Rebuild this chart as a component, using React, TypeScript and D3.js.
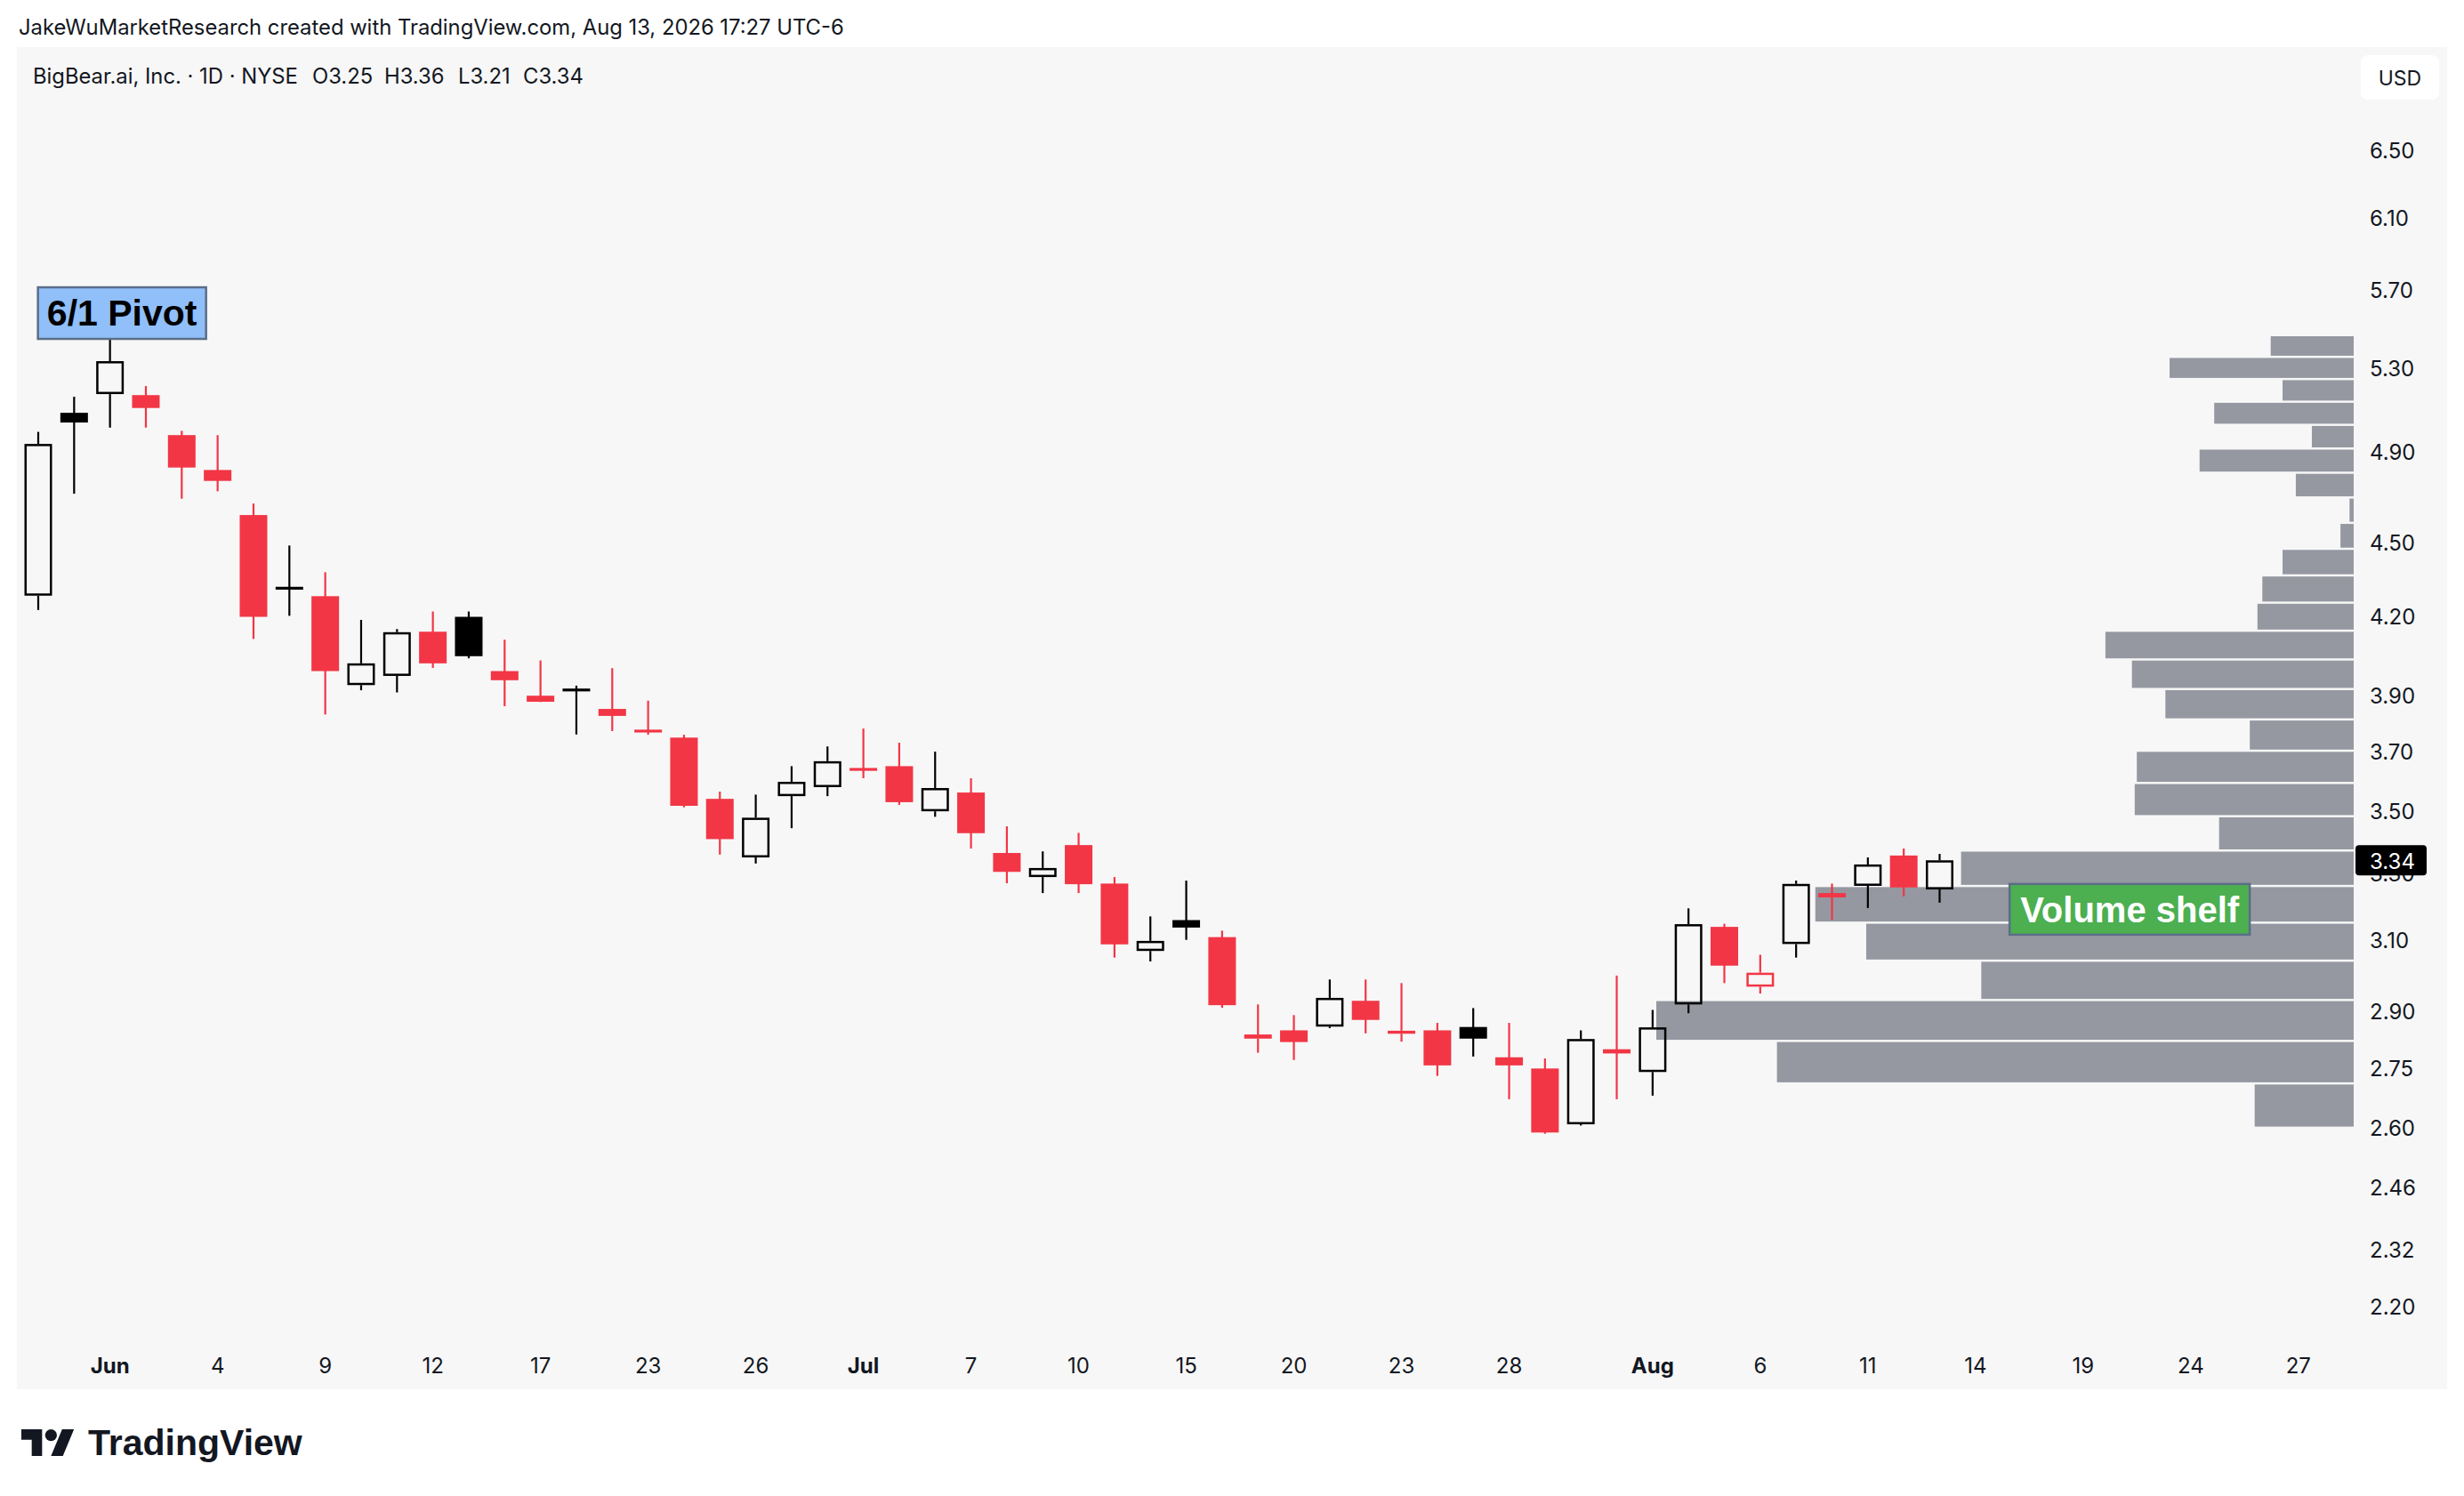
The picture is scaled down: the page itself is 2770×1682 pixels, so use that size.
import React from "react";
import * as d3 from "d3";

// ---------- DATA ----------
const dates = [
  "2026-05-28", "2026-05-29", "2026-06-01", "2026-06-02", "2026-06-03", "2026-06-04", "2026-06-05",
  "2026-06-08", "2026-06-09", "2026-06-10", "2026-06-11", "2026-06-12",
  "2026-06-15", "2026-06-16", "2026-06-17", "2026-06-18",
  "2026-06-22", "2026-06-23", "2026-06-24", "2026-06-25", "2026-06-26",
  "2026-06-29", "2026-06-30", "2026-07-01", "2026-07-02",
  "2026-07-06", "2026-07-07", "2026-07-08", "2026-07-09", "2026-07-10",
  "2026-07-13", "2026-07-14", "2026-07-15", "2026-07-16", "2026-07-17",
  "2026-07-20", "2026-07-21", "2026-07-22", "2026-07-23", "2026-07-24",
  "2026-07-27", "2026-07-28", "2026-07-29", "2026-07-30", "2026-07-31",
  "2026-08-03", "2026-08-04", "2026-08-05", "2026-08-06", "2026-08-07",
  "2026-08-10", "2026-08-11", "2026-08-12", "2026-08-13",
];
const opens = [
  4.28, 5.08, 5.17, 5.165, 4.975, 4.815, 4.616,
  4.31, 4.278, 3.936, 3.97, 4.138,
  4.196, 3.988, 3.897, 3.918,
  3.849, 3.77, 3.747, 3.538, 3.349,
  3.547, 3.577, 3.637, 3.648,
  3.497, 3.559, 3.363, 3.288, 3.388,
  3.268, 3.068, 3.158, 3.108, 2.826,
  2.848, 2.858, 2.928, 2.839, 2.848,
  2.857, 2.777, 2.748, 2.608, 2.798,
  2.739, 2.918, 3.138, 2.967, 3.088,
  3.239, 3.261, 3.355, 3.25,
];
const highs = [
  4.99, 5.157, 5.458, 5.209, 4.995, 4.975, 4.666,
  4.486, 4.375, 4.184, 4.148, 4.217,
  4.217, 4.107, 4.028, 3.934,
  3.999, 3.879, 3.757, 3.562, 3.552,
  3.648, 3.716, 3.779, 3.729,
  3.698, 3.607, 3.448, 3.368, 3.427,
  3.288, 3.169, 3.277, 3.127, 2.918,
  2.889, 2.987, 2.987, 2.977, 2.868,
  2.908, 2.868, 2.774, 2.848, 2.998,
  2.903, 3.193, 3.147, 3.057, 3.277,
  3.268, 3.349, 3.377, 3.36,
];
const lows = [
  4.223, 4.709, 5.01, 5.01, 4.687, 4.72, 4.11,
  4.2, 3.829, 3.917, 3.909, 4.0,
  4.036, 3.859, 3.874, 3.758,
  3.77, 3.757, 3.51, 3.358, 3.33,
  3.442, 3.547, 3.607, 3.518,
  3.479, 3.377, 3.269, 3.239, 3.239,
  3.049, 3.038, 3.1, 2.909, 2.789,
  2.77, 2.854, 2.84, 2.818, 2.729,
  2.779, 2.67, 2.585, 2.605, 2.67,
  2.679, 2.894, 2.977, 2.948, 3.049,
  3.159, 3.194, 3.229, 3.21,
];
const closes = [
  4.934, 5.034, 5.332, 5.103, 4.826, 4.766, 4.196,
  4.31, 3.988, 4.017, 4.136, 4.017,
  4.044, 3.954, 3.875, 3.918,
  3.824, 3.77, 3.515, 3.407, 3.476,
  3.595, 3.665, 3.637, 3.527,
  3.574, 3.426, 3.304, 3.316, 3.266,
  3.087, 3.097, 3.136, 2.916, 2.837,
  2.817, 2.936, 2.876, 2.847, 2.756,
  2.826, 2.756, 2.588, 2.825, 2.787,
  2.856, 3.146, 3.026, 3.006, 3.267,
  3.226, 3.327, 3.256, 3.34,
];
const futureDates = [
  "2026-08-14", "2026-08-17", "2026-08-18", "2026-08-19", "2026-08-20",
  "2026-08-21", "2026-08-24", "2026-08-25", "2026-08-26", "2026-08-27",
];
const xTickDates = [
  "2026-06-01", "2026-06-04", "2026-06-09", "2026-06-12", "2026-06-17", "2026-06-23", "2026-06-26",
  "2026-07-01", "2026-07-07", "2026-07-10", "2026-07-15", "2026-07-20", "2026-07-23", "2026-07-28",
  "2026-08-03", "2026-08-06", "2026-08-11", "2026-08-14", "2026-08-19", "2026-08-24", "2026-08-27",
];
const xTickLabels = [
  "Jun", "4", "9", "12", "17", "23", "26",
  "Jul", "7", "10", "15", "20", "23", "28",
  "Aug", "6", "11", "14", "19", "24", "27",
];
const priceTicks = [6.5, 6.1, 5.7, 5.3, 4.9, 4.5, 4.2, 3.9, 3.7, 3.5, 3.3, 3.1, 2.9, 2.75, 2.6, 2.46, 2.32, 2.2];

// Volume profile: 26 equal price bins, listed from top (highest price) to bottom
const profileHigh = 5.458;
const profileLow = 2.597;
const profileVolumes = [
  11.9, 26.4, 10.2, 20.0, 6.0, 22.1, 8.3, 0.6, 1.9, 10.2, 13.1, 13.8, 35.6,
  31.8, 27.0, 14.9, 31.1, 31.4, 19.3, 56.3, 77.2, 69.9, 53.4, 100, 82.7, 14.2,
];

const pivotDate = "2026-06-01";
const pivotText = "6/1 Pivot";
const shelfDate = "2026-08-20";
const shelfPrice = 3.19;
const shelfText = "Volume shelf";

const headerText = "JakeWuMarketResearch created with TradingView.com, Aug 13, 2026 17:27 UTC-6";
const symbolText = "BigBear.ai, Inc. · 1D · NYSE";

// ---------- STYLE ----------
const W = 2770;
const H = 1682;
const RED = "#f23645";
const BLACK = "#000000";
const TEXT = "#131722";
const FONT = 'Inter, "Noto Sans", "DejaVu Sans", sans-serif';
const LABEL_FONT = '"Liberation Sans", Arial, sans-serif';

export default function App() {
  const allDates = dates.concat(futureDates);
  const x = d3
    .scalePoint<string>()
    .domain(allDates)
    .range([43, 43 + (allDates.length - 1) * 40.33]);
  const y = d3.scaleLog().domain([2.2, 6.5]).range([1468.2, 168.4]);

  const bodyW = 31;
  const sw = 2.5;
  const wickW = 2.2;

  const candles = dates.map((d, i) => {
    const o = opens[i], h = highs[i], l = lows[i], c = closes[i];
    const prev = i > 0 ? closes[i - 1] : o;
    const color = c >= prev ? BLACK : RED;
    const hollow = c >= o;
    const cx = x(d) as number;
    const yTop = y(Math.max(o, c));
    const yBot = y(Math.min(o, c));
    const hgt = yBot - yTop;
    const yH = y(h);
    const yL = y(l);
    const els: React.ReactNode[] = [];
    if (hgt < 3.2) {
      const mid = (yTop + yBot) / 2;
      els.push(<line key="w" x1={cx} x2={cx} y1={yH} y2={yL} stroke={color} strokeWidth={wickW} />);
      els.push(<rect key="b" x={cx - bodyW / 2} y={mid - 1.6} width={bodyW} height={3.2} fill={color} />);
    } else if (hollow) {
      els.push(<line key="w1" x1={cx} x2={cx} y1={yH} y2={yTop} stroke={color} strokeWidth={wickW} />);
      els.push(<line key="w2" x1={cx} x2={cx} y1={yBot} y2={yL} stroke={color} strokeWidth={wickW} />);
      els.push(
        <rect key="b" x={cx - bodyW / 2 + sw / 2} y={yTop + sw / 2} width={bodyW - sw} height={hgt - sw}
          fill="none" stroke={color} strokeWidth={sw} />
      );
    } else {
      els.push(<line key="w" x1={cx} x2={cx} y1={yH} y2={yL} stroke={color} strokeWidth={wickW} />);
      els.push(<rect key="b" x={cx - bodyW / 2} y={yTop} width={bodyW} height={hgt} fill={color} />);
    }
    return <g key={d}>{els}</g>;
  });

  // volume profile
  const nBins = profileVolumes.length;
  const binW = (profileHigh - profileLow) / nBins;
  const profRight = 2646;
  const profMaxW = 784;
  const wScale = d3.scaleLinear().domain([0, d3.max(profileVolumes) as number]).range([0, profMaxW]);
  const profileBars = profileVolumes.map((v, k) => {
    const top = profileHigh - k * binW;
    const bot = top - binW;
    const y1 = y(top);
    const y2 = y(bot) - 2.5;
    const w = wScale(v);
    return <rect key={k} x={profRight - w} y={y1} width={w} height={y2 - y1} fill="#9598a1" />;
  });

  const last = dates.length - 1;
  const lastClose = closes[last];
  const yLast = y(lastClose);

  const pivotX = x(pivotDate) as number;
  const pivotHighY = y(highs[dates.indexOf(pivotDate)]);
  const shelfCX = (x(shelfDate) as number) + 12;
  const shelfCY = y(shelfPrice);

  return (
    <div style={{ position: "absolute", left: 0, top: 0 }}>
      <svg width={W} height={H} viewBox={`0 0 ${W} ${H}`} style={{ display: "block", background: "#ffffff" }}>
        <text x={21} y={39} fontFamily={FONT} fontSize={23.8} fill={TEXT}>{headerText}</text>

        <rect x={19} y={53} width={2732} height={1509} fill="#f7f7f7" />

        <g fontFamily={FONT} fontSize={23.8} fill={TEXT}>
          <text x={37} y={94}>{symbolText}</text>
          <text x={351} y={94}>{`O${opens[last].toFixed(2)}`}</text>
          <text x={432} y={94}>{`H${highs[last].toFixed(2)}`}</text>
          <text x={515} y={94}>{`L${lows[last].toFixed(2)}`}</text>
          <text x={588} y={94}>{`C${lastClose.toFixed(2)}`}</text>
        </g>

        <rect x={2654} y={62} width={88} height={50} rx={8} fill="#ffffff" />
        <text x={2698} y={88} textAnchor="middle" dominantBaseline="central" fontFamily={FONT} fontSize={23} fill={TEXT}>USD</text>

        <g>{profileBars}</g>
        <g>{candles}</g>

        {/* 6/1 Pivot label */}
        <rect x={pivotX - 81} y={pivotHighY - 55} width={189} height={58} fill="#90bff9" stroke="#5b6e88" strokeWidth={2.5} />
        <text x={pivotX - 81 + 94.5} y={pivotHighY - 26} textAnchor="middle" dominantBaseline="central"
          fontFamily={LABEL_FONT} fontWeight="bold" fontSize={41} fill="#000000">{pivotText}</text>

        {/* Volume shelf label */}
        <rect x={shelfCX - 135} y={shelfCY - 28.5} width={270} height={57} fill="#4caf50" stroke="#5b6e88" strokeWidth={2.5} />
        <text x={shelfCX} y={shelfCY + 1} textAnchor="middle" dominantBaseline="central"
          fontFamily={LABEL_FONT} fontWeight="bold" fontSize={40} fill="#ffffff">{shelfText}</text>

        {/* price axis */}
        <g fontFamily={FONT} fontSize={24} fill={TEXT}>
          {priceTicks.map((t) => (
            <text key={t} x={2664} y={y(t) + 1} dominantBaseline="central">{t.toFixed(2)}</text>
          ))}
        </g>
        <rect x={2648} y={yLast - 17} width={80} height={34} rx={4} fill="#000000" />
        <text x={2664} y={yLast + 1} dominantBaseline="central" fontFamily={FONT} fontSize={24} fill="#ffffff">{lastClose.toFixed(2)}</text>

        {/* time axis */}
        <g fontFamily={FONT} fontSize={24} fill={TEXT}>
          {xTickDates.map((d, k) => (
            <text key={d} x={x(d) as number} y={1544} textAnchor="middle"
              fontWeight={/^[A-Za-z]/.test(xTickLabels[k]) ? 700 : 400}>{xTickLabels[k]}</text>
          ))}
        </g>

        {/* TradingView logo */}
        <g transform="translate(24,1600.3) scale(1.667)" fill="#131722">
          <path d="M14 22H7V11H0V4h14v18zM28 22h-8l7.5-18h8L28 22z" />
          <circle cx={20} cy={8} r={4} />
        </g>
        <text x={99} y={1636} fontFamily={LABEL_FONT} fontWeight="bold" fontSize={41} fill="#131722">TradingView</text>
      </svg>
    </div>
  );
}
